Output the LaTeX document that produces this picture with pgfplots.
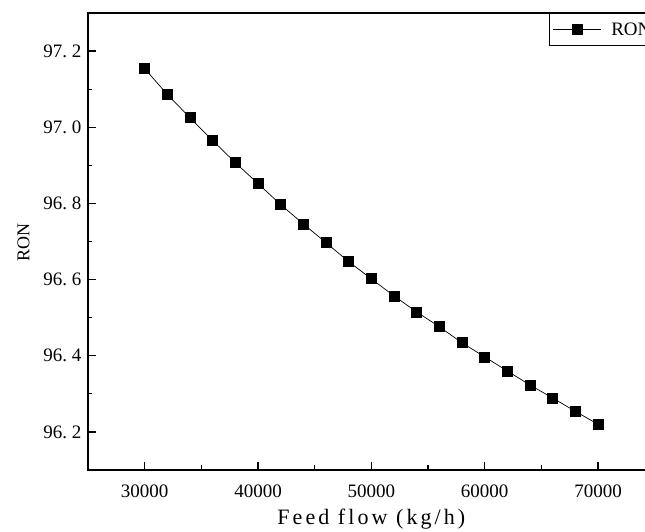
\documentclass[border=0pt]{standalone}
\usepackage{pgfplots}
\pgfplotsset{compat=1.18}
\usepackage{fontspec}
\setmainfont{Liberation Serif}
\newfontfamily\lblfont[LetterSpace=14]{Liberation Serif}
\newcommand\tfont{\fontsize{19pt}{21pt}\selectfont}
\begin{document}
\begin{tikzpicture}
\begin{axis}[name=ax, scale only axis, width=566.7pt, height=457pt,
  xmin=25000, xmax=75000, ymin=96.1, ymax=97.3,
  scaled x ticks=false, scaled y ticks=false,
  xtick={30000,40000,50000,60000,70000}, minor x tick num=1,
  ytick={96.2,96.4,96.6,96.8,97.0,97.2}, minor y tick num=1,
  tick align=inside, xtick pos=bottom, ytick pos=left,
  major tick length=8pt, minor tick length=4.5pt,
  axis line style={line width=1.3pt},
  every tick/.style={line width=1.2pt, black},
  /pgf/number format/assume math mode=true,
  tick label style={font=\tfont},
  xticklabel={\tfont\pgfmathprintnumber[1000 sep={}]{\tick}},
  yticklabel={\tfont\pgfmathprintnumber[fixed, fixed zerofill, precision=1, dec sep={.\kern0.25em}]{\tick}},
  x tick label style={anchor=center, yshift=-21.5pt},
  y tick label style={anchor=east, xshift=-3pt},
  xlabel={\fontsize{22pt}{24pt}\lblfont Feed flow (kg/h)},
  xlabel style={at={(axis description cs:0.5,0)}, anchor=center, yshift=-49pt},
  ylabel={\fontsize{18pt}{20pt}\selectfont RON},
  ylabel style={at={(axis description cs:0,0.5)}, anchor=center, yshift=64.5pt, xshift=-1pt},
  legend style={at={(rel axis cs:0.8135,1)}, anchor=north west, draw=black, line width=1pt, font=\tfont, inner xsep=3pt, inner ysep=7pt, nodes={inner sep=2pt}},
  legend cell align=left,
  legend image code/.code={\draw[mark repeat=2,mark phase=2,line width=0.8pt] plot coordinates {(0pt,0pt) (24pt,0pt) (48pt,0pt)};},
]
\addplot[black, line width=0.7pt, mark=square*, mark size=5pt, mark options={solid, fill=black}] coordinates {
(30000,97.154) (32000,97.086) (34000,97.025) (36000,96.965) (38000,96.907)
(40000,96.852) (42000,96.797) (44000,96.746) (46000,96.697) (48000,96.647)
(50000,96.602) (52000,96.557) (54000,96.515) (56000,96.476) (58000,96.434)
(60000,96.397) (62000,96.360) (64000,96.323) (66000,96.289) (68000,96.254)
(70000,96.220)};
\addlegendentry{\hspace{8pt}RON}
\end{axis}
\pgfresetboundingbox
\path (ax.south west) ++(-88pt,-62pt) rectangle ++(645pt,532pt);
\end{tikzpicture}
\end{document}
